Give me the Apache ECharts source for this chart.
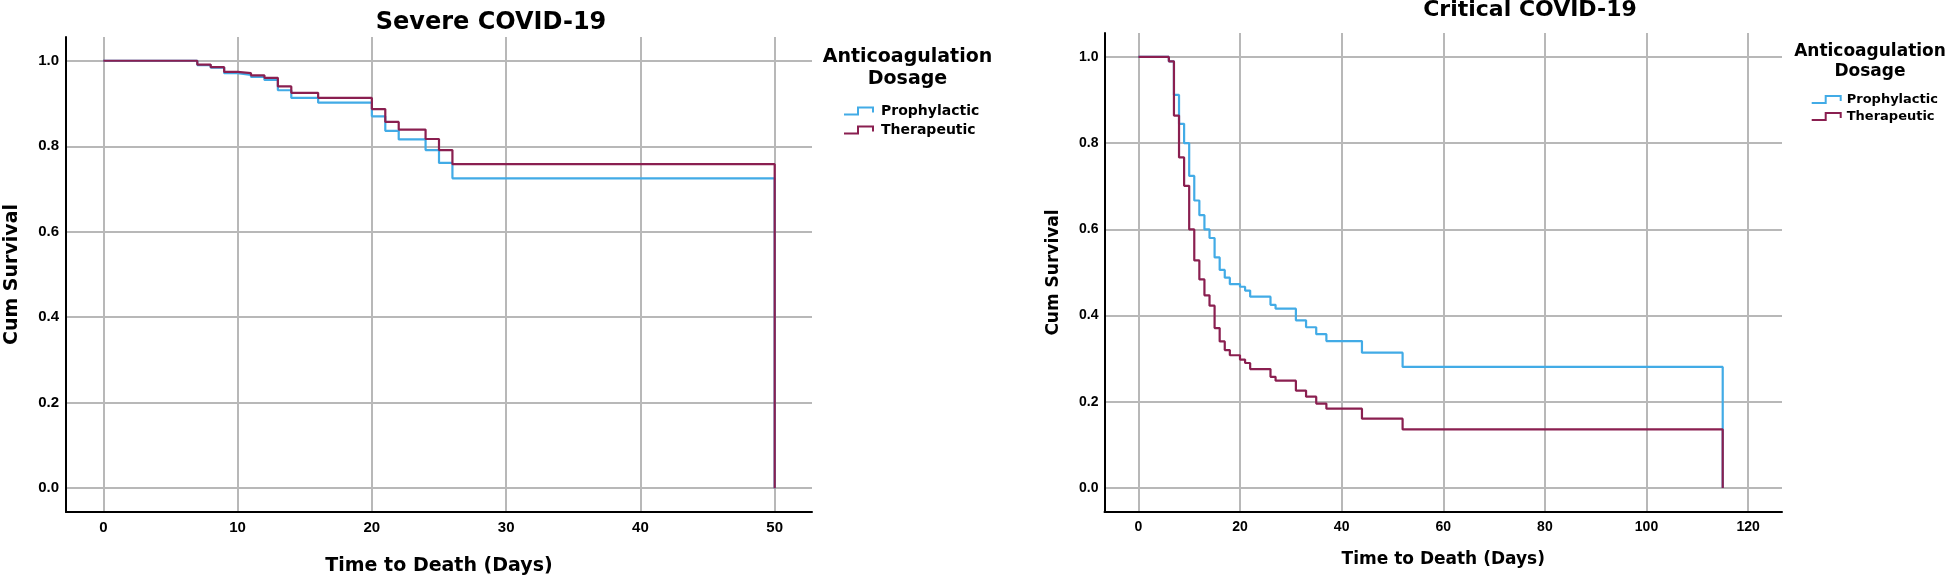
<!DOCTYPE html>
<html>
<head>
<meta charset="utf-8">
<script src="https://cdn.jsdelivr.net/npm/echarts@6/dist/echarts.min.js"></script>
<style>
html,body{margin:0;padding:0;background:#fff;}
#chart{width:1945px;height:576px;}
</style>
</head>
<body>
<div id="chart"></div>
<script>
// ---- Data ----
var severeTimes = [0, 7, 8, 9, 10, 11, 12, 13, 14, 16, 20, 21, 22, 24, 25, 26, 50];
var severeProphylactic = [1.000, 0.990, 0.984, 0.971, 0.967, 0.962, 0.955, 0.931, 0.913, 0.902, 0.870, 0.836, 0.816, 0.791, 0.761, 0.725, 0];
var severeTherapeutic  = [1.000, 0.991, 0.985, 0.974, 0.971, 0.966, 0.960, 0.940, 0.925, 0.913, 0.887, 0.857, 0.839, 0.817, 0.791, 0.758, 0];

var criticalTimes = [0, 6, 7, 8, 9, 10, 11, 12, 13, 14, 15, 16, 17, 18, 20, 21, 22, 26, 27, 31, 33, 35, 37, 44, 52, 115];
var criticalProphylactic = [1.000, 0.990, 0.912, 0.845, 0.800, 0.724, 0.667, 0.633, 0.600, 0.580, 0.535, 0.506, 0.488, 0.473, 0.467, 0.458, 0.444, 0.425, 0.416, 0.389, 0.373, 0.357, 0.341, 0.314, 0.281, 0];
var criticalTherapeutic  = [1.000, 0.990, 0.864, 0.767, 0.701, 0.600, 0.528, 0.484, 0.447, 0.423, 0.371, 0.340, 0.320, 0.308, 0.298, 0.290, 0.276, 0.258, 0.249, 0.226, 0.212, 0.196, 0.184, 0.161, 0.136, 0];

var severeXTicks = [0, 10, 20, 30, 40, 50];
var criticalXTicks = [0, 20, 40, 60, 80, 100, 120];
var yTicks = [0, 0.2, 0.4, 0.6, 0.8, 1.0];

var groupNames = ['Prophylactic', 'Therapeutic'];
var titles = ['Severe COVID-19', 'Critical COVID-19'];
var legendTitle = ['Anticoagulation', 'Dosage'];
var xName = 'Time to Death (Days)';
var yName = 'Cum Survival';

// ---- Styles ----
var BLUE = '#42ABE6';
var MAROON = '#8A1F50';
var GRID = '#b8b8b8';
var TXT = 'DejaVu Sans';
var NUM = 'Liberation Sans';
var stepIcon = 'path://M0,7L13,7L13,0L30,0L30,6L28,6L28,2L15,2L15,9L0,9Z';

function pairs(t, v) { return t.map(function (x, i) { return [x, v[i]]; }); }

function xAxis(gridIndex, min, max, ticks, fs, nameSize, nameGap) {
  return {
    type: 'value', gridIndex: gridIndex, min: min, max: max,
    name: xName, nameLocation: 'middle', nameGap: nameGap,
    nameTextStyle: { fontFamily: TXT, fontWeight: 'bold', fontSize: nameSize, color: '#000' },
    axisLine: { show: true, onZero: false, lineStyle: { color: '#000', width: 2 } },
    axisTick: { show: false, customValues: ticks },
    axisLabel: { customValues: ticks, margin: 8, fontFamily: NUM, fontWeight: 'bold', fontSize: fs, color: '#000' },
    splitLine: { show: true, lineStyle: { color: GRID, width: 2 } }
  };
}
function yAxis(gridIndex, fs, nameSize, nameGap, margin) {
  return {
    type: 'value', gridIndex: gridIndex, min: -0.0556, max: 1.0556,
    name: yName, nameLocation: 'middle', nameGap: nameGap, nameRotate: 90,
    nameTextStyle: { fontFamily: TXT, fontWeight: 'bold', fontSize: nameSize, color: '#000' },
    axisLine: { show: true, onZero: false, lineStyle: { color: '#000', width: 2 } },
    axisTick: { show: false, customValues: yTicks },
    axisLabel: { customValues: yTicks, margin: margin, fontFamily: NUM, fontWeight: 'bold', fontSize: fs, color: '#000',
      formatter: function (v) { return v.toFixed(1); } },
    splitLine: { show: true, lineStyle: { color: GRID, width: 2 } }
  };
}
function line(name, xi, data, color) {
  return {
    name: name, type: 'line', step: 'end', xAxisIndex: xi, yAxisIndex: xi,
    data: data, symbol: 'none', color: color,
    lineStyle: { color: color, width: 2.2 }, itemStyle: { color: color },
    animation: false, z: name === 'Therapeutic' ? 3 : 2
  };
}
function legend(left, top, fs, lh, gap, pad) {
  return {
    orient: 'vertical', left: left, top: top, data: groupNames,
    icon: stepIcon, itemWidth: 30, itemHeight: 9, itemGap: gap,
    selectedMode: false,
    itemStyle: { borderWidth: 0 },
    textStyle: { fontFamily: TXT, fontWeight: 'bold', fontSize: fs, lineHeight: lh, color: '#000', padding: [0, 0, 0, pad] }
  };
}
function label(x, y, text, size) {
  return { type: 'text', x: x, y: y, style: { text: text, fontFamily: TXT, fontWeight: 'bold', fontSize: size, fill: '#000', textAlign: 'center', textVerticalAlign: 'middle' } };
}

var chart = echarts.init(document.getElementById('chart'));
chart.setOption({
  backgroundColor: '#fff',
  animation: false,
  grid: [
    { left: 66, top: 37, width: 746, height: 475, containLabel: false, outerBoundsMode: 'none' },
    { left: 1104.5, top: 33, width: 677.5, height: 479, containLabel: false, outerBoundsMode: 'none' }
  ],
  xAxis: [
    xAxis(0, -2.7778, 52.7778, severeXTicks, 15, 19, 45),
    xAxis(1, -6.6667, 126.6667, criticalXTicks, 14, 17, 39)
  ],
  yAxis: [
    yAxis(0, 15, 19, 44, 7),
    yAxis(1, 14, 17, 42, 6)
  ],
  legend: [
    legend(839, 98, 14, 16, 3, 2),
    legend(1806.7, 87, 13, 15, 2, 0)
  ],
  graphic: [
    label(491, 22.6, titles[0], 24),
    label(1530, 10, titles[1], 22),
    label(907.5, 57.5, legendTitle[0], 19),
    label(907.5, 79, legendTitle[1], 19),
    label(1870, 51.7, legendTitle[0], 17),
    label(1870, 72, legendTitle[1], 17)
  ],
  series: [
    line(groupNames[0], 0, pairs(severeTimes, severeProphylactic), BLUE),
    line(groupNames[1], 0, pairs(severeTimes, severeTherapeutic), MAROON),
    line(groupNames[0], 1, pairs(criticalTimes, criticalProphylactic), BLUE),
    line(groupNames[1], 1, pairs(criticalTimes, criticalTherapeutic), MAROON)
  ]
});
</script>
</body>
</html>
